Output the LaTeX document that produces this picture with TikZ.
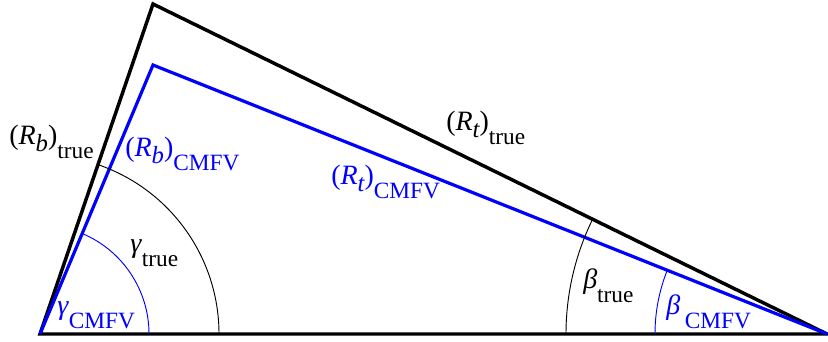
\documentclass[tikz,border=0pt]{standalone}
\usepackage{fontspec}
\setmainfont{Liberation Serif}
\newcommand{\lowsub}[1]{\raisebox{-10pt}{\fontsize{17.5}{20}\selectfont #1}}
\newcommand{\lowit}[1]{\raisebox{-5pt}{\fontsize{18.5}{20}\selectfont\itshape #1}}
\begin{document}
\begin{tikzpicture}[x=0.75pt,y=0.75pt,
  tri/.style={line width=2.6pt,line join=miter},
  ang/.style={line width=0.7pt},
  lab/.style={anchor=base west,inner sep=0pt,font=\fontsize{21}{24}\selectfont},
  blu/.style={color=blue}]
\useasboundingbox (0,0) rectangle (828,342);
\begin{scope}
\clip (0,0) rectangle (828,342);
\coordinate (A) at (40,8);
\coordinate (B) at (153,338);
\coordinate (Bb) at (153,277);
\coordinate (C) at (827,8);
\draw[tri] (A) -- (B) -- (C) -- cycle;
\draw[tri,blue,line width=2.4pt] (A) -- (Bb) -- (C);
\draw[ang] (219,8) arc[start angle=0,end angle=71.1,radius=179];
\draw[ang,blue] (149,8) arc[start angle=0,end angle=67.2,radius=109];
\draw[ang] (566,8) arc[start angle=180,end angle=153.9,radius=261];
\draw[ang,blue] (655,8) arc[start angle=180,end angle=158.2,radius=172];
\end{scope}
\node[lab] (rbt) at (9,197) {(\textit{R}\lowit{b})\lowsub{true}};
\node[lab,blu] (rbc) at (125,185) {(\textit{R}\lowit{b})\lowsub{CMFV}};
\node[lab] (rtt) at (446,211) {(\textit{R}\lowit{t})\lowsub{true}};
\node[lab,blu] (rtc) at (331,157) {(\textit{R}\lowit{t})\lowsub{CMFV}};
\node[lab] (gt) at (130,89) {\textit{γ}\lowsub{true}};
\node[lab,blu] (gc) at (57,27) {\textit{γ}\lowsub{CMFV}};
\node[lab] (bt) at (583,53) {\textit{β}\lowsub{true}};
\node[lab,blu] (bc) at (666,27) {\textit{β}\,\lowsub{CMFV}};
\end{tikzpicture}
\end{document}
